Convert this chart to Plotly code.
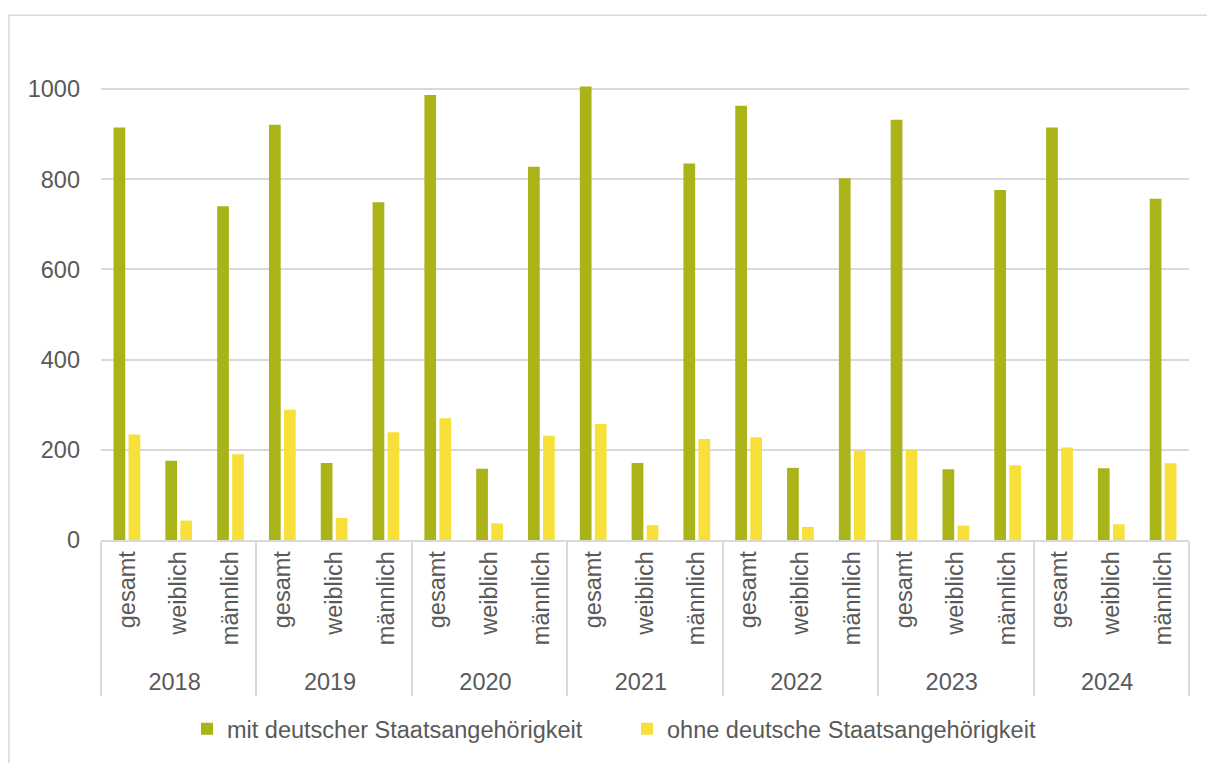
import plotly.graph_objects as go

YEARS = ["2018", "2019", "2020", "2021", "2022", "2023", "2024"]
GROUPS = ["gesamt", "weiblich", "männlich"]

# Werte je Jahr: gesamt, weiblich, männlich
MIT_DEUTSCH = [915, 176, 740,
               921, 171, 749,
               987, 158, 828,
               1006, 171, 835,
               963, 160, 802,
               932, 157, 776,
               915, 159, 757]
OHNE_DEUTSCH = [234, 43, 190,
                289, 49, 239,
                270, 37, 231,
                257, 33, 224,
                228, 29, 198,
                200, 32, 166,
                205, 35, 170]

GREEN = "#AAB318"
YELLOW = "#F8E03A"
TEXT = "#595959"
GRID = "#D9D9D9"
FONT = "Liberation Sans, Arial, sans-serif"

x_years = [y for y in YEARS for _ in GROUPS]
x_groups = GROUPS * len(YEARS)

fig = go.Figure()
fig.add_trace(go.Bar(
    x=[x_years, x_groups],
    y=MIT_DEUTSCH,
    name="mit deutscher Staatsangehörigkeit",
    marker=dict(color=GREEN, line=dict(width=0)),
))
fig.add_trace(go.Bar(
    x=[x_years, x_groups],
    y=OHNE_DEUTSCH,
    name="ohne deutsche Staatsangehörigkeit",
    marker=dict(color=YELLOW, line=dict(width=0)),
))

W, H = 1207, 763
L, R, T, B = 101, 18, 44, 220
pw, ph = W - L - R, H - T - B


def px_x(v):
    return (v - L) / pw


def px_y(v):
    return (H - B - v) / ph


# Rahmen um das ganze Diagramm (rechts/unten außerhalb des Bildes)
fig.add_shape(
    type="rect", xref="paper", yref="paper",
    x0=px_x(9), x1=px_x(W + 10),
    y0=px_y(H + 10), y1=px_y(15),
    line=dict(color=GRID, width=1.5), fillcolor="rgba(0,0,0,0)", layer="below",
)

fig.update_layout(
    width=W, height=H,
    barmode="group",
    bargap=0.42,
    bargroupgap=0.22,
    paper_bgcolor="white",
    plot_bgcolor="white",
    font=dict(family=FONT, size=23.5, color=TEXT),
    margin=dict(l=L, r=R, t=T, b=B),
    xaxis=dict(
        type="multicategory",
        tickangle=-90,
        showline=True, linecolor=GRID, linewidth=1.5,
        showdividers=True, dividercolor=GRID, dividerwidth=1.5,
        showgrid=False,
        tickfont=dict(size=23.5, color=TEXT),
    ),
    yaxis=dict(
        range=[0, 1100],
        tickvals=[0, 200, 400, 600, 800, 1000],
        showgrid=True, gridcolor=GRID, gridwidth=1.5,
        zeroline=False, showline=False,
        ticklabelstandoff=20,
        tickfont=dict(size=23.5, color=TEXT),
    ),
    legend=dict(
        orientation="h",
        x=px_x(201 - 14), xanchor="left",
        y=px_y(733), yanchor="middle",
        font=dict(size=23.5, color=TEXT),
        itemwidth=30,
        entrywidth=395, entrywidthmode="pixels",
        traceorder="normal",
    ),
)

# Standardrand der Seite entfernen, damit die Figur bei (0,0) sitzt
page_css = (
    "document.documentElement.style.overflow='hidden';"
    "document.body.style.margin='0';"
    "document.body.style.overflow='hidden';"
)
fig.write_html("out.html", post_script=page_css, config={"displayModeBar": False})
